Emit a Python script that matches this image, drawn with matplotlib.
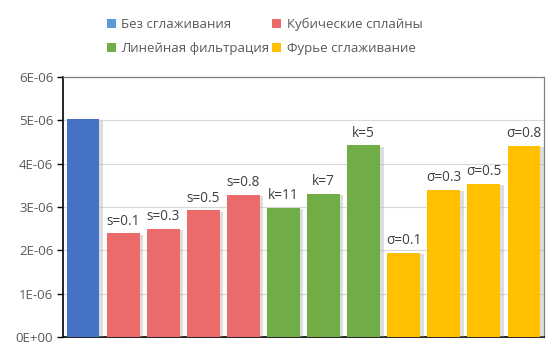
import matplotlib
matplotlib.use("Agg")
import matplotlib.pyplot as plt
import matplotlib.patheffects as pe
from matplotlib.patches import Patch
from matplotlib.ticker import FixedLocator

plt.rcParams['font.family'] = ['Open Sans', 'DejaVu Sans']

labels = ["", "s=0.1", "s=0.3", "s=0.5", "s=0.8", "k=11", "k=7", "k=5",
          "σ=0.1", "σ=0.3", "σ=0.5", "σ=0.8"]
values = [5.02e-6, 2.39e-6, 2.50e-6, 2.92e-6, 3.28e-6, 2.98e-6, 3.30e-6, 4.42e-6,
          1.95e-6, 3.39e-6, 3.54e-6, 4.41e-6]
groups = [0, 1, 1, 1, 1, 2, 2, 2, 3, 3, 3, 3]
group_names = ["Без сглаживания", "Кубические сплайны", "Линейная фильтрация", "Фурье сглаживание"]
bar_colors = ["#4472C4", "#EB6B6B", "#70AD47", "#FFC000"]
legend_colors = ["#5B9BD5", "#EB6B6B", "#70AD47", "#FFC000"]
yticks = [0, 1e-6, 2e-6, 3e-6, 4e-6, 5e-6, 6e-6]
ytick_labels = ["0E+00", "1E-06", "2E-06", "3E-06", "4E-06", "5E-06", "6E-06"]

fig = plt.figure(figsize=(5.59, 3.54), dpi=100)
ax = fig.add_axes([63/559, 1-337/354, (544-63)/559, (337-77)/354])

x = list(range(len(values)))
bars = ax.bar(x, values, width=0.82, color=[bar_colors[g] for g in groups], zorder=3)
for b in bars:
    b.set_path_effects([pe.SimplePatchShadow(offset=(2.5, -1), shadow_rgbFace='#A0A0A0', alpha=0.35), pe.Normal()])

for xi, v, lab in zip(x, values, labels):
    if lab:
        ax.text(xi, v + 0.11e-6, lab, ha='center', va='bottom', fontsize=9.8, color='#404040', zorder=4)

ax.set_xlim(-0.5, len(values) - 0.5)
ax.set_ylim(0, 6e-6)
ax.yaxis.set_major_locator(FixedLocator(yticks))
ax.set_yticklabels(ytick_labels, fontsize=9.5, color='#595959')
ax.set_xticks([])
ax.tick_params(axis='y', length=4, width=1, color='black', direction='out', pad=3)
ax.grid(axis='y', color='#D9D9D9', linewidth=0.8, zorder=0)
for s in ['top', 'right']:
    ax.spines[s].set_color('#808080')
    ax.spines[s].set_linewidth(0.9)
for s in ['left', 'bottom']:
    ax.spines[s].set_color('black')
    ax.spines[s].set_linewidth(1.2)

# legend fills column by column: reorder so rows read as in the reference
order = [0, 2, 1, 3]
handles = [Patch(facecolor=legend_colors[i], edgecolor='none') for i in order]
names = [group_names[i] for i in order]
fig.legend(handles, names, loc='upper left', bbox_to_anchor=(95/559, 1-6/354),
           ncol=2, frameon=False, fontsize=9.5, handlelength=0.7, handleheight=0.7,
           handletextpad=0.4, columnspacing=0.2, labelspacing=0.8,
           labelcolor='#595959')

fig.savefig("out.png", dpi=100)
